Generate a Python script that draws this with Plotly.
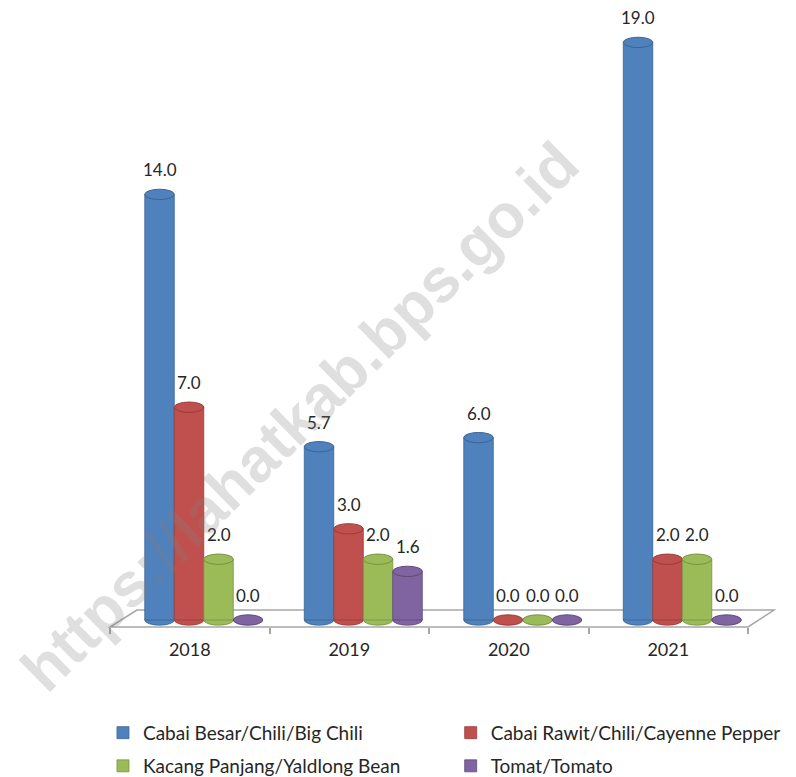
import plotly.graph_objects as go

years = ["2018", "2019", "2020", "2021"]
series_names = [
    "Cabai Besar/Chili/Big Chili",
    "Cabai Rawit/Chili/Cayenne Pepper",
    "Kacang Panjang/Yaldlong Bean",
    "Tomat/Tomato",
]
big_chili = [14.0, 5.7, 6.0, 19.0]
cayenne = [7.0, 3.0, 0.0, 2.0]
long_bean = [2.0, 2.0, 0.0, 2.0]
tomato = [0.0, 1.6, 0.0, 0.0]
values = [big_chili, cayenne, long_bean, tomato]
colors = ["#4F81BD", "#C0504D", "#9BBB59", "#8064A2"]
edge_colors = ["#3A6595", "#973C3A", "#779143", "#5F4A7A"]

W, H = 796, 777
# the page shows the figure 8px in from the top-left corner
ML, MR, MT, MB = 102, 56, 4, 158
cat_px = (W - ML - MR) / len(years)
bar_w = 0.185
offsets = [-0.282, -0.097, 0.088, 0.273]
ell_h = 0.17  # half height of the cylinder cap ellipse, in value units
FONT = "Lato, 'Open Sans', sans-serif"

fig = go.Figure()
legend_ids = ["legend", "legend2", "legend3", "legend4"]
for i, (name, vals) in enumerate(zip(series_names, values)):
    fig.add_trace(go.Bar(
        x=years, y=vals, name=name,
        width=bar_w, offset=offsets[i],
        marker=dict(color=colors[i], line=dict(color=edge_colors[i], width=0.8)),
        legend=legend_ids[i],
        hoverinfo="x+y+name",
    ))

shapes = [
    dict(type="path", xref="paper", yref="paper",
         path="M 0,0 L 0.0423,0.0276 L 1.0408,0.0276 L 1.0,0 Z",
         fillcolor="white", line=dict(color="#A6A6A6", width=1.5),
         layer="below"),
]
# cylinder caps: bottom rounding and top ellipse for each bar
for i, vals in enumerate(values):
    for j, v in enumerate(vals):
        x0 = j + offsets[i]
        x1 = x0 + bar_w
        if v > 0:
            shapes.append(dict(type="circle", xref="x", yref="y",
                               x0=x0, x1=x1, y0=-ell_h, y1=ell_h,
                               fillcolor=colors[i],
                               line=dict(color=edge_colors[i], width=0.8),
                               layer="below"))
        shapes.append(dict(type="circle", xref="x", yref="y",
                           x0=x0, x1=x1, y0=v - ell_h, y1=v + ell_h,
                           fillcolor=colors[i],
                           line=dict(color=edge_colors[i], width=1),
                           layer="above"))

annotations = []
for i, vals in enumerate(values):
    for j, v in enumerate(vals):
        annotations.append(dict(
            x=j, y=v, xref="x", yref="y",
            text=f"{v:.1f}", showarrow=False,
            xshift=(offsets[i] + bar_w / 2) * cat_px,
            yanchor="bottom", yshift=12,
            font=dict(family=FONT, size=17, color="#262626"),
        ))

annotations.append(dict(
    x=0.297, y=0.343, xref="paper", yref="paper",
    xanchor="center", yanchor="middle",
    text="<b>https://lahatkab.bps.go.id</b>", showarrow=False,
    textangle=-44.5,
    font=dict(family="Liberation Sans, Arial, sans-serif", size=62,
              color="rgba(128,128,128,0.25)"),
))

legend_pos = [(-0.011, -0.172), (0.534, -0.172), (-0.011, -0.226), (0.534, -0.226)]
legend_layouts = {}
for lid, (lx, ly) in zip(legend_ids, legend_pos):
    legend_layouts[lid] = dict(
        orientation="h", x=lx, xanchor="left", y=ly, yanchor="middle",
        font=dict(family=FONT, size=19, color="#262626"),
        itemwidth=30, tracegroupgap=0, bgcolor="rgba(0,0,0,0)",
    )

fig.update_layout(
    width=W, height=H,
    margin=dict(l=ML, r=MR, t=MT, b=MB, autoexpand=False),
    paper_bgcolor="white", plot_bgcolor="rgba(0,0,0,0)",
    barmode="overlay",
    showlegend=True,
    annotations=annotations,
    shapes=shapes,
    xaxis=dict(
        type="category", categoryorder="array", categoryarray=years,
        range=[-0.5, 3.5],
        showline=False, showgrid=False, zeroline=False,
        ticks="outside", tickson="boundaries", ticklen=6,
        tickcolor="#A6A6A6", tickwidth=1.5,
        ticklabelstandoff=10,
        tickfont=dict(family=FONT, size=18, color="#262626"),
    ),
    yaxis=dict(
        range=[-0.23, 20.0], visible=False, showgrid=False, zeroline=False,
    ),
    **legend_layouts,
)

fig.write_html("out.html")
